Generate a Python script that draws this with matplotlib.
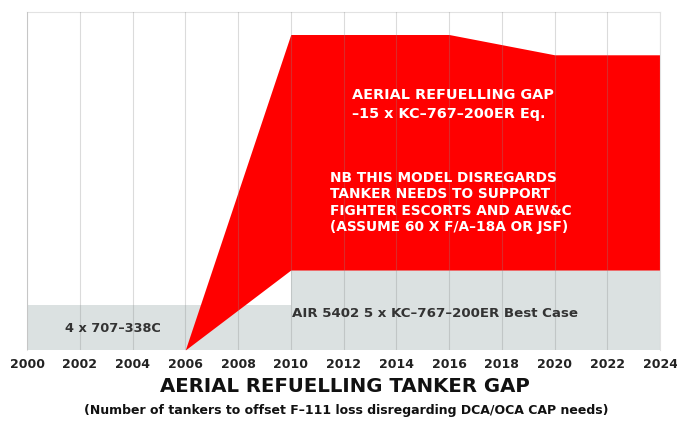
import matplotlib.pyplot as plt

# capacity (grey band), step after each year
cap_years = [2000, 2010, 2024]
cap_tankers = [4.0, 7.1, 7.1]

# refuelling gap (red), top = requirement, bottom = capacity
gap_years = [2006, 2010, 2016, 2020, 2024]
gap_top = [0.0, 28.0, 28.0, 26.2, 26.2]
gap_bottom = [0.0, 7.1, 7.1, 7.1, 7.1]

tick_years = list(range(2000, 2025, 2))

plt.rcParams['font.family'] = ['DejaVu Sans']
plt.rcParams['font.weight'] = 'bold'

fig = plt.figure(figsize=(6.77, 4.29), dpi=100)
ax = fig.add_axes([0.0399, 0.1841, 0.935, 0.788])

ax.fill_between(cap_years, 0, cap_tankers, step='post', color='#dbe1e1', lw=0, zorder=1)
ax.fill_between(gap_years, gap_bottom, gap_top, color='#ff0000', lw=0, zorder=2)

for yr in tick_years:
    ax.axvline(yr, color='#888888', alpha=0.3, lw=0.8, zorder=3)

ax.set_xlim(2000, 2024)
ax.set_ylim(0, 30)
ax.set_yticks([])
ax.set_xticks(tick_years)
ax.set_xticklabels([str(y) for y in tick_years], fontsize=9, fontweight='bold', color='#222222')
ax.tick_params(axis='x', length=0, pad=6)
for s in ax.spines.values():
    s.set_color('#e2e2e2')
    s.set_linewidth(0.8)
ax.spines['bottom'].set_visible(False)

ax.text(2003.26, 1.95, '4 x 707\u2013338C', fontsize=9.3, fontweight='bold',
        color='#333333', ha='center', va='center', zorder=4)
ax.text(2015.47, 3.28, 'AIR 5402 5 x KC\u2013767\u2013200ER Best Case', fontsize=9.6,
        fontweight='bold', color='#333333', ha='center', va='center', zorder=4)

ax.text(2012.32, 21.8, 'AERIAL REFUELLING GAP\n\u201315 x KC\u2013767\u2013200ER Eq.',
        fontsize=10.4, fontweight='bold', color='white', ha='left', va='center',
        linespacing=1.4, zorder=4)
ax.text(2011.49, 13.1, 'NB THIS MODEL DISREGARDS\nTANKER NEEDS TO SUPPORT\n'
        'FIGHTER ESCORTS AND AEW&C\n(ASSUME 60 X F/A\u201318A OR JSF)',
        fontsize=9.9, fontweight='bold', color='white', ha='left', va='center',
        linespacing=1.2, zorder=4)

fig.text(0.51, 0.100, 'AERIAL REFUELLING TANKER GAP', fontsize=14.2, fontweight='bold',
         color='#111111', ha='center', va='center')
fig.text(0.511, 0.044, '(Number of tankers to offset F\u2013111 loss disregarding DCA/OCA CAP needs)',
         fontsize=9, fontweight='bold', color='#111111', ha='center', va='center')

fig.savefig('out.png', dpi=100)
